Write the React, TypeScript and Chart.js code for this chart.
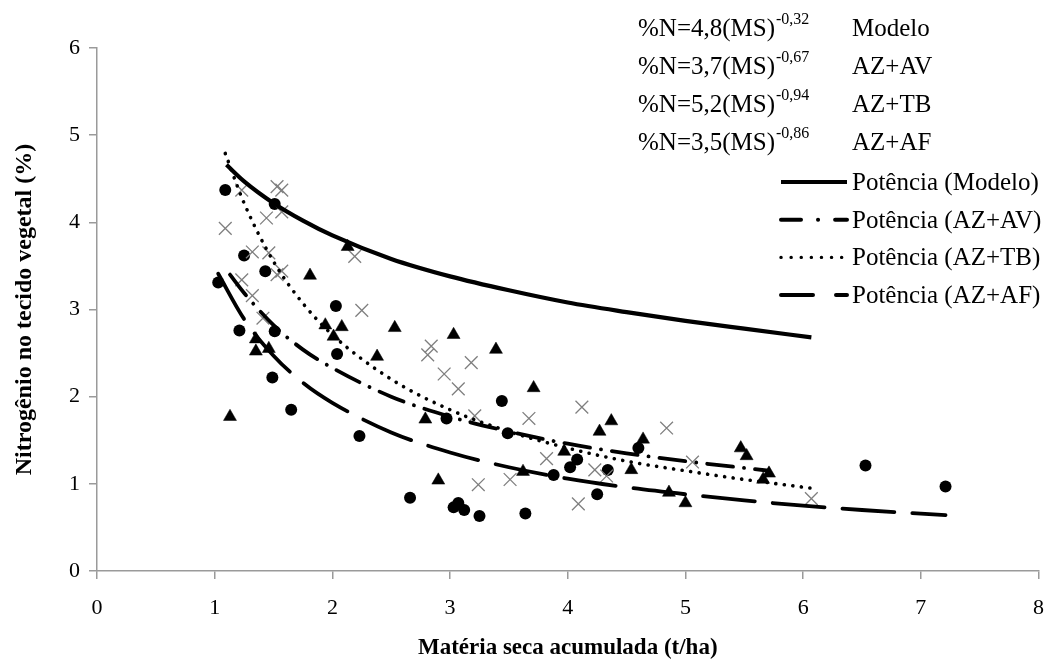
import React, { useEffect, useRef } from "react";
import { Chart, registerables } from "chart.js";

Chart.register(...registerables);

// ---- axis ticks ----
const xTicks = [0, 1, 2, 3, 4, 5, 6, 7, 8];
const yTicks = [0, 1, 2, 3, 4, 5, 6];

// ---- observed points (read from picture) ----
// circles -> AZ+AF
const afX = [1.03, 1.09, 1.21, 1.25, 1.43, 1.49, 1.51, 1.51, 1.65, 2.03, 2.04, 2.23, 2.66, 2.97, 3.03, 3.07, 3.12, 3.25, 3.44, 3.49, 3.64, 3.88, 4.02, 4.08, 4.25, 4.34, 4.6, 6.53, 7.21];
const afY = [3.31, 4.37, 2.76, 3.62, 3.44, 2.22, 4.21, 2.75, 1.85, 3.04, 2.49, 1.55, 0.84, 1.75, 0.73, 0.78, 0.7, 0.63, 1.95, 1.58, 0.66, 1.1, 1.19, 1.28, 0.88, 1.16, 1.41, 1.21, 0.97];
// triangles -> AZ+AV
const avX = [1.13, 1.35, 1.35, 1.46, 1.81, 1.94, 2.01, 2.08, 2.13, 2.38, 2.53, 2.79, 2.9, 3.03, 3.39, 3.62, 3.71, 3.97, 4.27, 4.37, 4.54, 4.64, 4.86, 5.0, 5.47, 5.52, 5.66, 5.71];
const avY = [1.77, 2.66, 2.52, 2.55, 3.39, 2.82, 2.69, 2.8, 3.72, 2.46, 2.79, 1.74, 1.04, 2.71, 2.54, 1.14, 2.1, 1.37, 1.6, 1.72, 1.16, 1.51, 0.9, 0.78, 1.41, 1.32, 1.05, 1.12];
// crosses -> AZ+TB
const tbX = [1.09, 1.23, 1.23, 1.32, 1.32, 1.41, 1.44, 1.46, 1.53, 1.53, 1.57, 1.57, 1.57, 2.19, 2.25, 2.81, 2.84, 2.95, 3.07, 3.18, 3.21, 3.24, 3.51, 3.67, 3.82, 4.09, 4.12, 4.23, 4.33, 4.84, 5.06, 6.07];
const tbY = [3.93, 4.37, 3.34, 3.66, 3.16, 2.9, 4.05, 3.65, 4.41, 3.4, 4.37, 4.12, 3.44, 3.61, 2.99, 2.48, 2.58, 2.26, 2.09, 2.39, 1.78, 0.99, 1.05, 1.75, 1.29, 0.77, 1.88, 1.16, 1.09, 1.64, 1.25, 0.83];

// ---- trend curves ----
const modeloLineX = [1.1, 1.25, 1.5, 1.75, 2, 2.5, 3, 3.5, 4, 4.5, 5, 5.5, 6.07];
const modeloLineY = [4.66, 4.47, 4.22, 4.02, 3.85, 3.58, 3.38, 3.22, 3.08, 2.97, 2.87, 2.78, 2.68];
const avLineX = [1.13, 1.25, 1.5, 1.75, 2, 2.5, 3, 3.5, 4, 4.5, 5, 5.71];
const avLineY = [3.4, 3.19, 2.82, 2.54, 2.33, 2.0, 1.77, 1.6, 1.46, 1.35, 1.26, 1.15];
const tbLineX = [1.09, 1.25, 1.5, 1.75, 2, 2.5, 3, 3.5, 4, 4.5, 5, 5.5, 6.07];
const tbLineY = [4.79, 4.22, 3.55, 3.07, 2.71, 2.2, 1.85, 1.6, 1.41, 1.26, 1.15, 1.05, 0.95];
const afLineX = [1.03, 1.25, 1.5, 1.75, 2, 2.5, 3, 3.5, 4, 4.5, 5, 5.5, 6, 6.5, 7.21];
const afLineY = [3.41, 2.89, 2.47, 2.16, 1.93, 1.59, 1.36, 1.19, 1.06, 0.96, 0.88, 0.81, 0.75, 0.7, 0.64];

// ---- text ----
const eqCoef = ["4,8", "3,7", "5,2", "3,5"];
const eqExp = ["-0,32", "-0,67", "-0,94", "-0,86"];
const eqNames = ["Modelo", "AZ+AV", "AZ+TB", "AZ+AF"];
const legendLabels = ["Potência (Modelo)", "Potência (AZ+AV)", "Potência (AZ+TB)", "Potência (AZ+AF)"];
const xTitle = "Matéria seca acumulada (t/ha)";
const yTitle = "Nitrogênio no tecido vegetal (%)";

const SERIF = '"Liberation Serif", "Times New Roman", serif';

const pts = (xs: number[], ys: number[]) => xs.map((x, i) => ({ x, y: ys[i] }));

const legendStyles = [
  { dash: [] as number[], width: 4, cap: "butt" as CanvasLineCap },
  { dash: [20, 17, 0.1, 17], width: 4, cap: "round" as CanvasLineCap },
  { dash: [0.1, 10], width: 3.4, cap: "round" as CanvasLineCap },
  { dash: [32, 23], width: 4, cap: "round" as CanvasLineCap },
];

const overlayPlugin = {
  id: "overlayText",
  afterDraw(chart: any) {
    const ctx: CanvasRenderingContext2D = chart.ctx;
    ctx.save();
    ctx.fillStyle = "#000";
    ctx.textBaseline = "alphabetic";
    ctx.textAlign = "left";
    const row = 38;
    for (let i = 0; i < 4; i++) {
      const base = 36 + i * row;
      ctx.font = `25px ${SERIF}`;
      const main = `%N=${eqCoef[i]}(MS)`;
      ctx.fillText(main, 638, base);
      const w = ctx.measureText(main).width;
      ctx.font = `16px ${SERIF}`;
      ctx.fillText(eqExp[i], 638 + w + 1, base - 12);
      ctx.font = `25px ${SERIF}`;
      ctx.fillText(eqNames[i], 852, base);
    }
    for (let i = 0; i < 4; i++) {
      const y = 182 + i * 37.7;
      const st = legendStyles[i];
      ctx.beginPath();
      ctx.setLineDash(st.dash);
      ctx.lineCap = st.cap;
      ctx.lineWidth = st.width;
      ctx.strokeStyle = "#000";
      ctx.moveTo(781, y);
      ctx.lineTo(847, y);
      ctx.stroke();
      ctx.setLineDash([]);
      ctx.font = `25px ${SERIF}`;
      ctx.fillText(legendLabels[i], 852, y + 8);
    }
    ctx.restore();
  },
};

export default function App() {
  const ref = useRef<HTMLCanvasElement>(null);
  useEffect(() => {
    const axisColor = "#9a9a9a";
    const chart = new Chart(ref.current as HTMLCanvasElement, {
      type: "scatter",
      data: {
        datasets: [
          {
            label: "Potência (Modelo)",
            data: pts(modeloLineX, modeloLineY),
            showLine: true,
            borderColor: "#000",
            borderWidth: 4.2,
            pointRadius: 0,
            cubicInterpolationMode: "monotone",
          },
          {
            label: "Potência (AZ+AV)",
            data: pts(avLineX, avLineY),
            showLine: true,
            borderColor: "#000",
            borderWidth: 3.8,
            borderDash: [26, 11, 0.1, 11],
            borderCapStyle: "round",
            pointRadius: 0,
            cubicInterpolationMode: "monotone",
          },
          {
            label: "Potência (AZ+TB)",
            data: pts(tbLineX, tbLineY),
            showLine: true,
            borderColor: "#000",
            borderWidth: 3.6,
            borderDash: [0.1, 8.5],
            borderCapStyle: "round",
            pointRadius: 0,
            cubicInterpolationMode: "monotone",
          },
          {
            label: "Potência (AZ+AF)",
            data: pts(afLineX, afLineY),
            showLine: true,
            borderColor: "#000",
            borderWidth: 3.8,
            borderDash: [52, 18],
            borderCapStyle: "round",
            pointRadius: 0,
            cubicInterpolationMode: "monotone",
          },
          {
            label: "AZ+AV",
            data: pts(avX, avY),
            pointStyle: "triangle",
            pointRadius: 7.5,
            backgroundColor: "#000",
            borderColor: "#000",
            borderWidth: 0.5,
          },
          {
            label: "AZ+TB",
            data: pts(tbX, tbY),
            pointStyle: "crossRot",
            pointRadius: 9,
            backgroundColor: "#7f7f7f",
            borderColor: "#7f7f7f",
            borderWidth: 1.3,
          },
          {
            label: "AZ+AF",
            data: pts(afX, afY),
            pointStyle: "circle",
            pointRadius: 6,
            backgroundColor: "#000",
            borderColor: "#000",
            borderWidth: 0,
          },
        ],
      },
      options: {
        responsive: false,
        animation: false,
        devicePixelRatio: 1,
        events: [],
        layout: { padding: { left: 0, top: 48, right: 11, bottom: 0 } },
        plugins: {
          legend: { display: false },
          tooltip: { enabled: false },
          title: { display: false },
        },
        scales: {
          x: {
            type: "linear",
            min: 0,
            max: 8,
            afterBuildTicks: (s: any) => {
              s.ticks = xTicks.map((v) => ({ value: v }));
            },
            afterFit: (s: any) => {
              s.height = 91;
            },
            ticks: {
              color: "#000",
              font: { family: SERIF, size: 22 },
              padding: 16,
            },
            grid: {
              display: true,
              drawOnChartArea: false,
              drawTicks: true,
              tickLength: 8,
              color: axisColor,
              lineWidth: 1.5,
            },
            border: { display: true, color: axisColor, width: 1.5 },
            title: {
              display: true,
              text: xTitle,
              color: "#000",
              font: { family: SERIF, size: 23, weight: "bold" },
              padding: { top: 0, bottom: 0 },
            },
          },
          y: {
            type: "linear",
            min: 0,
            max: 6,
            afterBuildTicks: (s: any) => {
              s.ticks = yTicks.map((v) => ({ value: v }));
            },
            afterFit: (s: any) => {
              s.width = 97;
            },
            ticks: {
              color: "#000",
              font: { family: SERIF, size: 22 },
              padding: 9,
            },
            grid: {
              display: true,
              drawOnChartArea: false,
              drawTicks: true,
              tickLength: 8,
              color: axisColor,
              lineWidth: 1.5,
            },
            border: { display: true, color: axisColor, width: 1.5 },
            title: {
              display: true,
              text: yTitle,
              color: "#000",
              font: { family: SERIF, size: 24, weight: "bold" },
              padding: { top: 10, bottom: 0 },
            },
          },
        },
      },
      plugins: [overlayPlugin],
    } as any);
    return () => chart.destroy();
  }, []);
  return (
    <div style={{ position: "fixed", left: 0, top: 0, width: 1060, height: 662, background: "#fff" }}>
      <canvas ref={ref} width={1060} height={662} style={{ display: "block" }} />
    </div>
  );
}
